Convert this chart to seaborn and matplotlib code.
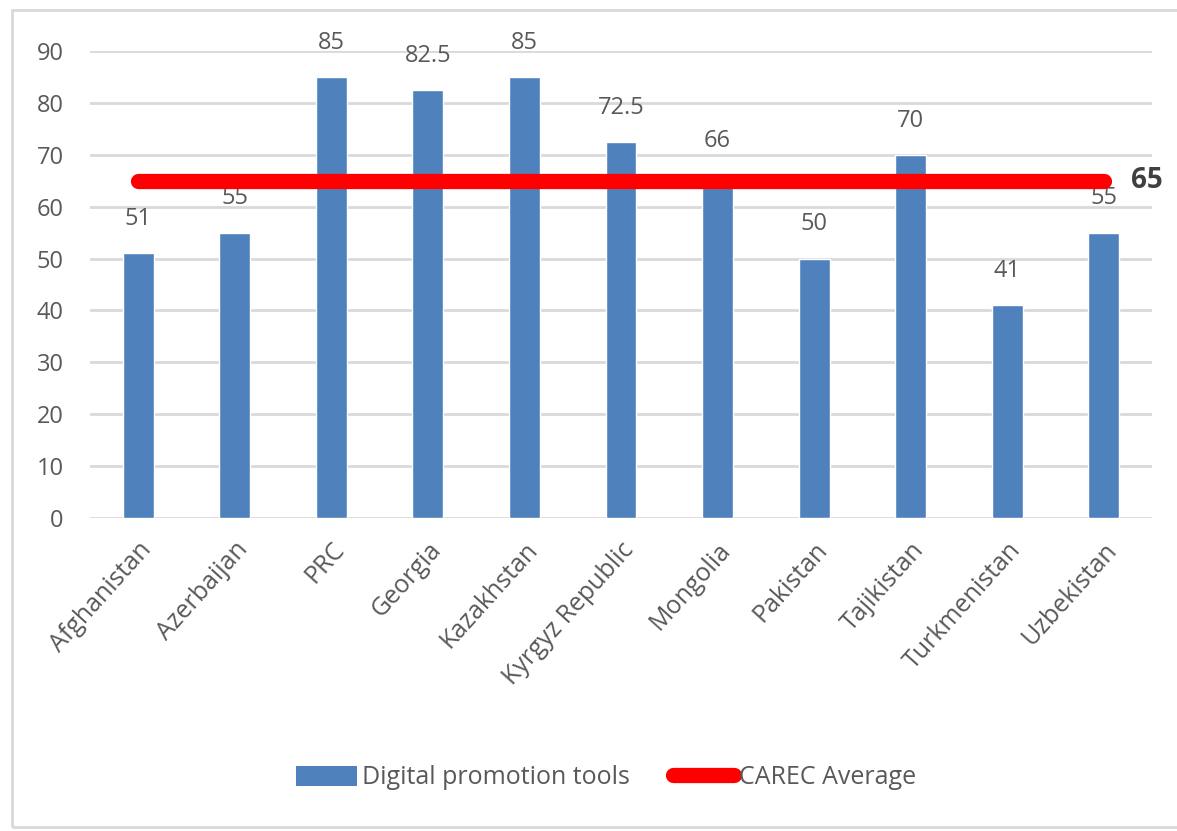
import matplotlib
matplotlib.use("Agg")
import matplotlib.pyplot as plt
import seaborn as sns
import pandas as pd
from matplotlib.patches import Rectangle, Patch
from matplotlib.lines import Line2D

countries = ["Afghanistan", "Azerbaijan", "PRC", "Georgia", "Kazakhstan",
             "Kyrgyz Republic", "Mongolia", "Pakistan", "Tajikistan",
             "Turkmenistan", "Uzbekistan"]
values = [51, 55, 85, 82.5, 85, 72.5, 66, 50, 70, 41, 55]
value_labels = ["51", "55", "85", "82.5", "85", "72.5", "66", "50", "70", "41", "55"]
carec_average = 65
yticks = [0, 10, 20, 30, 40, 50, 60, 70, 80, 90]

sns.set_theme(style="white")
plt.rcParams['font.family'] = ['Open Sans', 'DejaVu Sans']
txt = "#595959"

fig = plt.figure(figsize=(11.77, 8.31), dpi=100)
ax = fig.add_axes([90/1177, 1-518/831, (1152-90)/1177, (518-51)/831])

df = pd.DataFrame({"country": countries, "value": values})
sns.barplot(data=df, x="country", y="value", color="#4f81bd", width=0.32,
            saturation=1, ax=ax, zorder=2)

ax.set_ylim(0, 90)
ax.set_xlim(-0.5, len(countries) - 0.5)
ax.set_yticks(yticks)
ax.set_yticklabels([str(t) for t in yticks], fontsize=17, color=txt)
ax.yaxis.grid(True, color="#d9d9d9", linewidth=2, zorder=0)
ax.set_axisbelow(True)
for s in ax.spines.values():
    s.set_visible(False)
ax.tick_params(axis='y', length=0, pad=19)
ax.tick_params(axis='x', length=0, pad=14)
ax.set_xlabel("")
ax.set_ylabel("")
ax.set_xticks(range(len(countries)))
ax.set_xticklabels(countries, rotation=48, ha="right", rotation_mode="anchor",
                   fontsize=18, color=txt)

for i, (v, lab) in enumerate(zip(values, value_labels)):
    ax.text(i, v + 6.6, lab, ha="center", va="center", fontsize=17, color=txt, zorder=3)

ax.plot([0, len(countries) - 1], [carec_average, carec_average], color="#ff0000",
        linewidth=11, solid_capstyle="round", zorder=4)
ax.text(len(countries) - 1 + 0.28, carec_average, str(carec_average), ha="left",
        va="center", fontsize=20, fontweight="bold", color="#404040", zorder=5)

handles = [Patch(facecolor="#4f81bd", edgecolor="none"),
           Line2D([0], [0], color="#ff0000", linewidth=11, solid_capstyle="round")]
fig.legend(handles, ["Digital promotion tools", "CAREC Average"],
           loc="center", bbox_to_anchor=(606/1177, 1-778/831), ncol=2, frameon=False,
           fontsize=18, labelcolor=txt, handlelength=2.45, handleheight=0.85,
           handletextpad=0.2, columnspacing=1.7)

fig.patches.append(Rectangle((12/1177, 0.005), 1.0, 1-10/831-0.005,
                             transform=fig.transFigure, fill=False,
                             edgecolor="#d9d9d9", linewidth=2))

fig.savefig("out.png", dpi=100, facecolor="white")
